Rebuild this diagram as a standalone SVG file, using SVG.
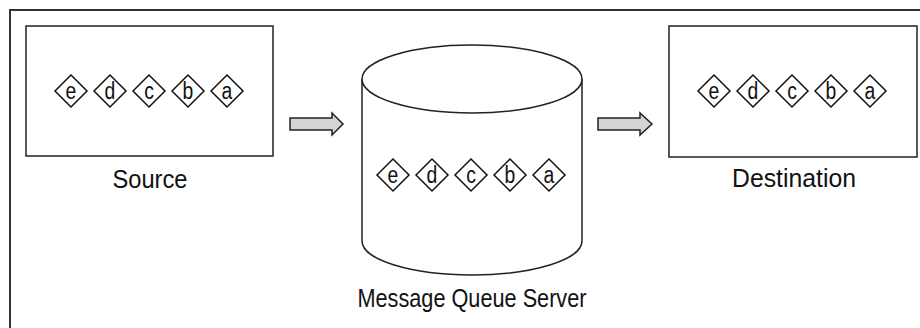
<svg xmlns="http://www.w3.org/2000/svg" width="920" height="328" viewBox="0 0 920 328">
<defs>
<style>
.frame{fill:none;stroke:#333;stroke-width:2}
.box{fill:#fff;stroke:#222;stroke-width:1.5}
.dia{fill:#fff;stroke:#111;stroke-width:1.5;stroke-linejoin:miter}
.lt{font-family:"Liberation Sans",Arial,sans-serif;font-size:22px;fill:#111;text-anchor:middle}
.lbl{font-family:"Liberation Sans",Arial,sans-serif;font-size:25px;fill:#111;text-anchor:middle}
.arr{fill:#d4d4d4;stroke:#222;stroke-width:1.5;stroke-linejoin:miter}
</style>
<path id="dshape" class="dia" d="M-16,0 L0,-16 L16,0 L0,16 Z"/>
<g id="m-e"><use href="#dshape"/><text class="lt" transform="scale(0.88,1.12)" x="0" y="7">e</text></g>
<g id="m-d"><use href="#dshape"/><text class="lt" transform="scale(0.88,1.12)" x="0" y="7">d</text></g>
<g id="m-c"><use href="#dshape"/><text class="lt" transform="scale(0.88,1.12)" x="0" y="7">c</text></g>
<g id="m-b"><use href="#dshape"/><text class="lt" transform="scale(0.88,1.12)" x="0" y="7">b</text></g>
<g id="m-a"><use href="#dshape"/><text class="lt" transform="scale(0.88,1.12)" x="0" y="7">a</text></g>
</defs>
<rect width="920" height="328" fill="#fff"/>
<path class="frame" d="M10,328 L10,10 L920,10"/>

<g id="source">
<rect class="box" x="26" y="26" width="247" height="130"/>
<use href="#m-e" x="71" y="91"/>
<use href="#m-d" x="110" y="91"/>
<use href="#m-c" x="149" y="91"/>
<use href="#m-b" x="188" y="91"/>
<use href="#m-a" x="227" y="91"/>
<text class="lbl" x="150" y="188" textLength="75" lengthAdjust="spacingAndGlyphs">Source</text>
</g>

<g id="server">
<path class="box" d="M362,79 L362,241 A110,34 0 0 0 582,241 L582,79"/>
<ellipse class="box" cx="472" cy="79" rx="110" ry="34"/>
<use href="#m-e" x="393" y="175"/>
<use href="#m-d" x="432" y="175"/>
<use href="#m-c" x="471" y="175"/>
<use href="#m-b" x="510" y="175"/>
<use href="#m-a" x="549" y="175"/>
<text class="lbl" x="472" y="307" textLength="229" lengthAdjust="spacingAndGlyphs">Message Queue Server</text>
</g>

<g id="destination">
<rect class="box" x="669" y="26" width="248" height="131"/>
<use href="#m-e" x="714" y="91"/>
<use href="#m-d" x="753" y="91"/>
<use href="#m-c" x="792" y="91"/>
<use href="#m-b" x="831" y="91"/>
<use href="#m-a" x="870" y="91"/>
<text class="lbl" x="794" y="187" textLength="124" lengthAdjust="spacingAndGlyphs">Destination</text>
</g>

<g id="connectors">
<path class="arr" d="M290,118 L332,118 L332,113 L343,124 L332,135 L332,130 L290,130 Z"/>
<path class="arr" d="M598,118 L640,118 L640,113 L652,124 L640,135 L640,130 L598,130 Z"/>
</g>
</svg>
